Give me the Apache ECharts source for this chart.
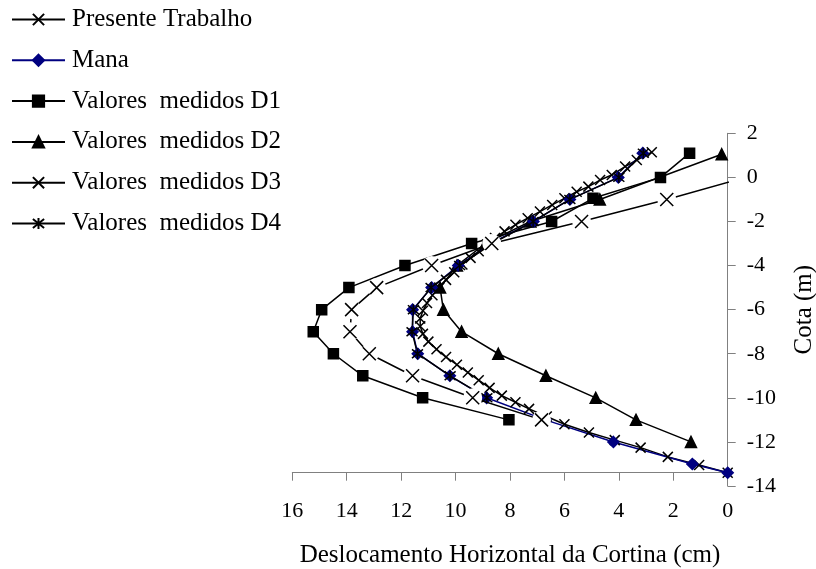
<!DOCTYPE html>
<html>
<head>
<meta charset="utf-8">
<script src="https://cdn.jsdelivr.net/npm/echarts@6/dist/echarts.min.js"></script>
<style>
html,body{margin:0;padding:0;background:#fff;}
#chart{width:816px;height:569px;}
</style>
</head>
<body>
<div id="chart"></div>
<script>
// ---- data (x = Deslocamento horizontal [cm], y = Cota [m]) ----
const seriesNames = ['Presente Trabalho', 'Mana', 'Valores  medidos D1', 'Valores  medidos D2', 'Valores  medidos D3', 'Valores  medidos D4'];

const presenteDesloc = [2.79,3.34,3.77,4.26,4.69,5.12,5.55,6.0,6.45,6.9,7.35,7.8,8.2,8.55,8.85,9.15,9.45,9.75,10.05,10.35,10.6,10.85,11.05,11.2,11.3,11.3,11.2,11.0,10.7,10.35,9.95,9.55,9.15,8.75,8.3,7.8,7.3,6.65,6.0,5.1,4.15,3.2,2.2,1.05,0];
const presenteCota = [1.14,0.79,0.49,0.11,-0.12,-0.42,-0.65,-0.95,-1.25,-1.55,-1.85,-2.15,-2.45,-2.75,-3.05,-3.35,-3.65,-3.95,-4.3,-4.65,-5.0,-5.35,-5.7,-6.05,-6.4,-6.75,-7.1,-7.45,-7.8,-8.15,-8.5,-8.85,-9.2,-9.55,-9.9,-10.2,-10.5,-10.85,-11.2,-11.57,-11.92,-12.26,-12.68,-13.05,-13.4];

const manaDesloc = [3.12,4.02,5.8,7.14,8.7,9.9,10.88,11.58,11.58,11.39,10.21,8.86,6.7,4.2,1.3,0];
const manaCota = [1.1,0,-1,-2,-3,-4,-5,-6,-7,-8,-9,-10,-11,-12,-13.0,-13.4];

const d1Desloc = [1.4,2.47,4.95,6.47,9.41,11.86,13.92,14.92,15.23,14.49,13.41,11.21,8.04];
const d1Cota = [1.1,0,-0.95,-2,-3,-4,-5,-6,-7,-8,-9,-10,-11];

const d2Desloc = [0.22,4.7,7.25,8.9,9.95,10.57,10.45,9.78,8.43,6.68,4.85,3.37,1.35];
const d2Cota = [1.05,-1,-2,-3,-4,-5,-6,-7,-8,-9,-10,-11,-12];

const d3Desloc = [-0.65,2.24,5.37,8.67,10.88,12.9,13.82,13.88,13.17,11.58,9.37,6.84];
const d3Cota = [0,-1,-2,-3,-4,-5,-6,-7,-8,-9,-10,-11];

const d4Desloc = [3.1,4.0,5.8,7.15,8.65,9.85,10.9,11.55,11.6,11.4,10.2,8.85];
const d4Cota = [1.1,0,-1,-2,-3,-4,-5,-6,-7,-8,-9,-10];

const xTicks = [0,2,4,6,8,10,12,14,16];
const yTicks = [-14,-12,-10,-8,-6,-4,-2,0,2];

// ---- build ----
const pairs = (xs, ys) => xs.map((x, i) => [x, ys[i]]);
const FONT = "'Liberation Serif','Times New Roman',serif";
const X_SYM = 'path://M0,0L10,10M10,0L0,10';
const STAR_SYM = 'path://M1,1L9,9M9,1L1,9M5,0L5,10';

function lineSeries(name, data, color, symbol, size, extra) {
  return Object.assign({
    name: name,
    type: 'line',
    data: data,
    symbol: symbol,
    symbolSize: size,
    showSymbol: true,
    clip: true,
    lineStyle: { color: color, width: 1.5 },
    itemStyle: { color: color, borderColor: color, borderWidth: 1.5, opacity: 1 },
    emphasis: { disabled: true },
    animation: false
  }, extra || {});
}

const chart = echarts.init(document.getElementById('chart'), null, { renderer: 'canvas' });

const option = {
  backgroundColor: '#ffffff',
  animation: false,
  legend: {
    orient: 'vertical',
    left: 11,
    top: 7,
    padding: 0,
    itemWidth: 53,
    itemHeight: 14,
    itemGap: 15.8,
    data: seriesNames,
    selectedMode: false,
    textStyle: { fontFamily: FONT, fontSize: 25, color: '#000', lineHeight: 24, padding: [0, 0, 0, 2] }
  },
  grid: { left: 292.3, right: 88.3, top: 133.3, bottom: 83, containLabel: false, outerBoundsMode: 'none' },
  xAxis: {
    type: 'value',
    inverse: true,
    min: xTicks[0],
    max: xTicks[xTicks.length - 1],
    interval: 2,
    position: 'bottom',
    offset: -13.3,
    name: 'Deslocamento Horizontal da Cortina (cm)',
    nameLocation: 'middle',
    nameGap: 70,
    nameTextStyle: { fontFamily: FONT, fontSize: 25, color: '#000' },
    axisLine: { onZero: false, lineStyle: { color: '#808080', width: 1 } },
    axisTick: { show: true, inside: false, length: 8, lineStyle: { color: '#808080' } },
    axisLabel: { fontFamily: FONT, fontSize: 22, color: '#000', margin: 28 },
    splitLine: { show: false }
  },
  yAxis: {
    type: 'value',
    position: 'right',
    min: yTicks[0],
    max: yTicks[yTicks.length - 1],
    interval: 2,
    name: 'Cota (m)',
    nameLocation: 'middle',
    nameRotate: 90,
    nameGap: 64,
    nameTextStyle: { fontFamily: FONT, fontSize: 25, color: '#000' },
    axisLine: { show: true, onZero: false, lineStyle: { color: '#808080', width: 1 } },
    axisTick: { show: true, inside: false, length: 8, lineStyle: { color: '#808080' } },
    axisLabel: { fontFamily: FONT, fontSize: 22, color: '#000', margin: 19 },
    splitLine: { show: false }
  },
  series: [
    lineSeries(seriesNames[2], pairs(d1Desloc, d1Cota), '#000', 'rect', 10, { z: 2 }),
    lineSeries(seriesNames[3], pairs(d2Desloc, d2Cota), '#000', 'triangle', 11, { z: 2 }),
    lineSeries(seriesNames[0], pairs(presenteDesloc, presenteCota), '#000', X_SYM, 10, { z: 3 }),
    lineSeries(seriesNames[1], pairs(manaDesloc, manaCota), '#000080', 'diamond', 11, { z: 3 }),
    lineSeries(seriesNames[5], pairs(d4Desloc, d4Cota), '#000', STAR_SYM, 11, { z: 3 }),
    lineSeries(seriesNames[4], pairs(d3Desloc, d3Cota), '#000', X_SYM, 13, { z: 4, showSymbol: false }),
    {
      name: '_d3mask',
      type: 'scatter',
      data: pairs(d3Desloc, d3Cota),
      symbol: 'circle',
      symbolSize: 19,
      itemStyle: { color: '#ffffff', opacity: 1 },
      silent: true,
      z: 5,
      animation: false
    },
    {
      name: seriesNames[4],
      type: 'scatter',
      data: pairs(d3Desloc, d3Cota),
      symbol: X_SYM,
      symbolSize: 13,
      itemStyle: { color: '#000', borderColor: '#000', borderWidth: 1.5, opacity: 1 },
      silent: true,
      z: 6,
      animation: false
    }
  ]
};
chart.setOption(option);
</script>
</body>
</html>
